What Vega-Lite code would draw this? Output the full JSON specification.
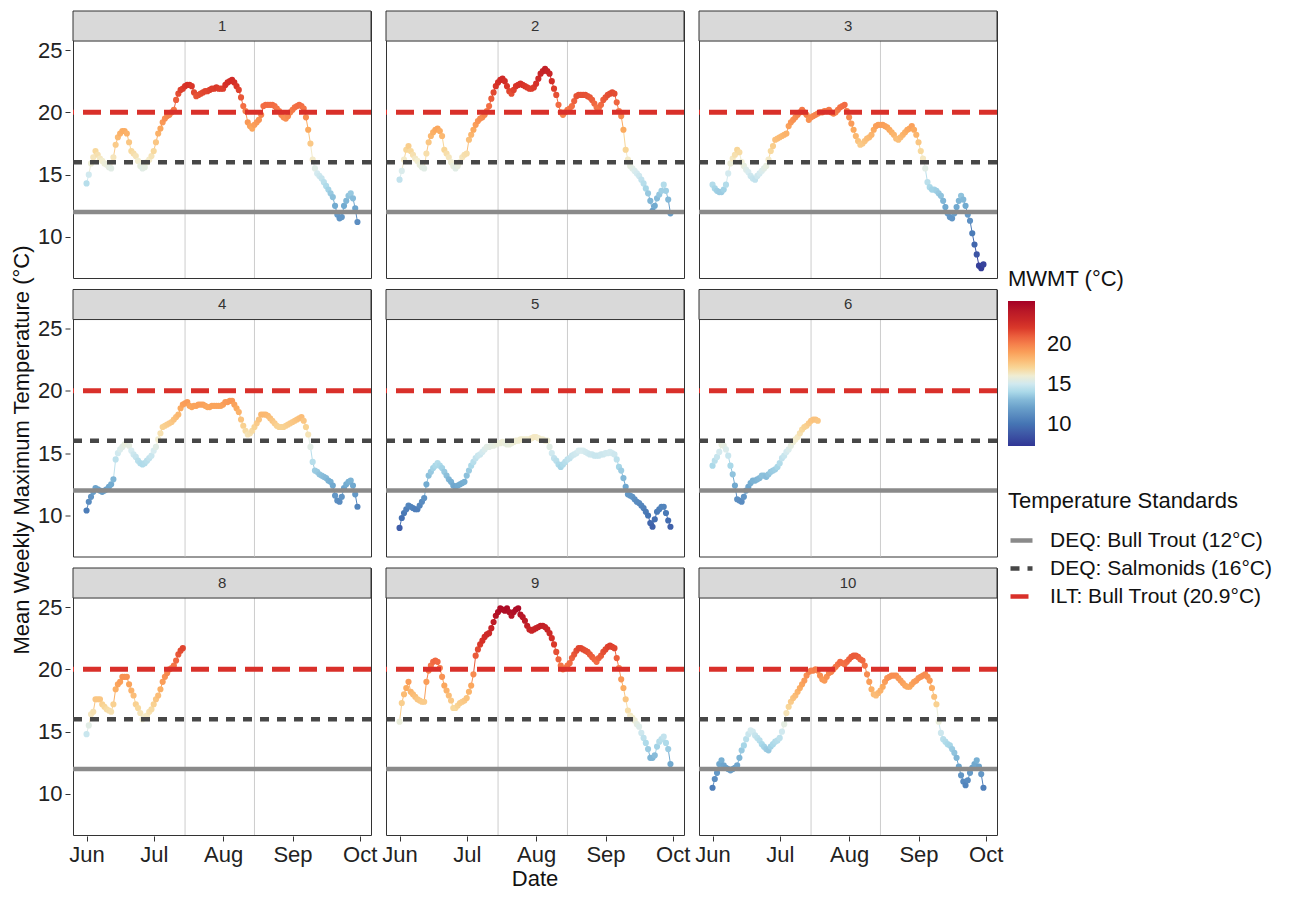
{
"$schema":"https://vega.github.io/schema/vega-lite/v6.json",
"padding":{"left":10,"top":10,"right":5,"bottom":5},
"background":"white",
"config":{"font":"Liberation Sans","view":{"stroke":"#333333","strokeWidth":1},
"axis":{"grid":false,"domain":false,"tickColor":"#333333","tickSize":5,"labelFontSize":22,"labelColor":"#222222","labelPadding":3},
"legend":{"titleFontSize":22,"titleFontWeight":"normal","titleColor":"#111111","labelFontSize":22,"labelColor":"#111111","labelLimit":0,"titleLimit":0}},
"title":{"text":"Mean Weekly Maximum Temperature (°C)","orient":"left","anchor":"middle","fontSize":22,"fontWeight":"normal","color":"#111111","offset":4},
"data":{"values":[
{"s":1,"d":"2021-06-01","t":14.3},{"s":1,"d":"2021-06-02","t":15.0},{"s":1,"d":"2021-06-03","t":15.9},{"s":1,"d":"2021-06-04","t":16.4},{"s":1,"d":"2021-06-05","t":16.9},{"s":1,"d":"2021-06-06","t":16.6},{"s":1,"d":"2021-06-07","t":16.3},{"s":1,"d":"2021-06-08","t":16.1},{"s":1,"d":"2021-06-09","t":15.9},{"s":1,"d":"2021-06-10","t":15.8},{"s":1,"d":"2021-06-11","t":15.6},{"s":1,"d":"2021-06-12","t":15.5},{"s":1,"d":"2021-06-13","t":16.4},{"s":1,"d":"2021-06-14","t":17.4},{"s":1,"d":"2021-06-15","t":18.0},{"s":1,"d":"2021-06-16","t":18.3},{"s":1,"d":"2021-06-17","t":18.5},{"s":1,"d":"2021-06-18","t":18.5},{"s":1,"d":"2021-06-19","t":18.3},{"s":1,"d":"2021-06-20","t":17.6},{"s":1,"d":"2021-06-21","t":16.9},{"s":1,"d":"2021-06-22","t":16.7},{"s":1,"d":"2021-06-23","t":16.5},{"s":1,"d":"2021-06-24","t":16.1},{"s":1,"d":"2021-06-25","t":15.7},{"s":1,"d":"2021-06-26","t":15.5},{"s":1,"d":"2021-06-27","t":15.6},{"s":1,"d":"2021-06-28","t":16.0},{"s":1,"d":"2021-06-29","t":16.2},{"s":1,"d":"2021-06-30","t":16.5},
{"s":1,"d":"2021-07-01","t":16.9},{"s":1,"d":"2021-07-02","t":17.6},{"s":1,"d":"2021-07-03","t":18.3},{"s":1,"d":"2021-07-04","t":18.7},{"s":1,"d":"2021-07-05","t":19.2},{"s":1,"d":"2021-07-06","t":19.5},{"s":1,"d":"2021-07-07","t":19.7},{"s":1,"d":"2021-07-08","t":19.8},{"s":1,"d":"2021-07-09","t":20.0},{"s":1,"d":"2021-07-10","t":20.2},{"s":1,"d":"2021-07-11","t":21.0},{"s":1,"d":"2021-07-12","t":21.5},{"s":1,"d":"2021-07-13","t":21.8},{"s":1,"d":"2021-07-14","t":21.9},{"s":1,"d":"2021-07-15","t":22.1},{"s":1,"d":"2021-07-16","t":22.2},{"s":1,"d":"2021-07-17","t":22.2},{"s":1,"d":"2021-07-18","t":22.1},{"s":1,"d":"2021-07-19","t":21.6},{"s":1,"d":"2021-07-20","t":21.3},{"s":1,"d":"2021-07-21","t":21.4},{"s":1,"d":"2021-07-22","t":21.5},{"s":1,"d":"2021-07-23","t":21.6},{"s":1,"d":"2021-07-24","t":21.7},{"s":1,"d":"2021-07-25","t":21.7},{"s":1,"d":"2021-07-26","t":21.8},{"s":1,"d":"2021-07-27","t":21.9},{"s":1,"d":"2021-07-28","t":21.9},{"s":1,"d":"2021-07-29","t":22.0},{"s":1,"d":"2021-07-30","t":21.9},{"s":1,"d":"2021-07-31","t":21.9},
{"s":1,"d":"2021-08-01","t":21.9},{"s":1,"d":"2021-08-02","t":22.2},{"s":1,"d":"2021-08-03","t":22.4},{"s":1,"d":"2021-08-04","t":22.5},{"s":1,"d":"2021-08-05","t":22.6},{"s":1,"d":"2021-08-06","t":22.4},{"s":1,"d":"2021-08-07","t":22.1},{"s":1,"d":"2021-08-08","t":21.8},{"s":1,"d":"2021-08-09","t":21.2},{"s":1,"d":"2021-08-10","t":20.5},{"s":1,"d":"2021-08-11","t":20.1},{"s":1,"d":"2021-08-12","t":19.2},{"s":1,"d":"2021-08-13","t":18.9},{"s":1,"d":"2021-08-14","t":18.7},{"s":1,"d":"2021-08-15","t":19.0},{"s":1,"d":"2021-08-16","t":19.2},{"s":1,"d":"2021-08-17","t":19.4},{"s":1,"d":"2021-08-18","t":19.8},{"s":1,"d":"2021-08-19","t":20.5},{"s":1,"d":"2021-08-20","t":20.6},{"s":1,"d":"2021-08-21","t":20.6},{"s":1,"d":"2021-08-22","t":20.6},{"s":1,"d":"2021-08-23","t":20.6},{"s":1,"d":"2021-08-24","t":20.5},{"s":1,"d":"2021-08-25","t":20.3},{"s":1,"d":"2021-08-26","t":20.1},{"s":1,"d":"2021-08-27","t":19.8},{"s":1,"d":"2021-08-28","t":19.6},{"s":1,"d":"2021-08-29","t":19.5},{"s":1,"d":"2021-08-30","t":19.7},{"s":1,"d":"2021-08-31","t":20.0},
{"s":1,"d":"2021-09-01","t":20.2},{"s":1,"d":"2021-09-02","t":20.4},{"s":1,"d":"2021-09-03","t":20.5},{"s":1,"d":"2021-09-04","t":20.6},{"s":1,"d":"2021-09-05","t":20.5},{"s":1,"d":"2021-09-06","t":20.3},{"s":1,"d":"2021-09-07","t":19.6},{"s":1,"d":"2021-09-08","t":18.6},{"s":1,"d":"2021-09-09","t":17.5},{"s":1,"d":"2021-09-10","t":16.2},{"s":1,"d":"2021-09-11","t":15.5},{"s":1,"d":"2021-09-12","t":15.1},{"s":1,"d":"2021-09-13","t":14.9},{"s":1,"d":"2021-09-14","t":14.7},{"s":1,"d":"2021-09-15","t":14.4},{"s":1,"d":"2021-09-16","t":14.1},{"s":1,"d":"2021-09-17","t":13.8},{"s":1,"d":"2021-09-18","t":13.5},{"s":1,"d":"2021-09-19","t":13.2},{"s":1,"d":"2021-09-20","t":12.5},{"s":1,"d":"2021-09-21","t":11.8},{"s":1,"d":"2021-09-22","t":11.5},{"s":1,"d":"2021-09-23","t":11.6},{"s":1,"d":"2021-09-24","t":12.5},{"s":1,"d":"2021-09-25","t":12.9},{"s":1,"d":"2021-09-26","t":13.3},{"s":1,"d":"2021-09-27","t":13.5},{"s":1,"d":"2021-09-28","t":13.1},{"s":1,"d":"2021-09-29","t":12.3},{"s":1,"d":"2021-09-30","t":11.2},
{"s":2,"d":"2021-06-01","t":14.6},{"s":2,"d":"2021-06-02","t":15.3},{"s":2,"d":"2021-06-03","t":16.2},{"s":2,"d":"2021-06-04","t":17.0},{"s":2,"d":"2021-06-05","t":17.3},{"s":2,"d":"2021-06-06","t":16.9},{"s":2,"d":"2021-06-07","t":16.6},{"s":2,"d":"2021-06-08","t":16.3},{"s":2,"d":"2021-06-09","t":16.1},{"s":2,"d":"2021-06-10","t":15.8},{"s":2,"d":"2021-06-11","t":15.6},{"s":2,"d":"2021-06-12","t":15.5},{"s":2,"d":"2021-06-13","t":16.7},{"s":2,"d":"2021-06-14","t":17.6},{"s":2,"d":"2021-06-15","t":18.1},{"s":2,"d":"2021-06-16","t":18.4},{"s":2,"d":"2021-06-17","t":18.6},{"s":2,"d":"2021-06-18","t":18.7},{"s":2,"d":"2021-06-19","t":18.5},{"s":2,"d":"2021-06-20","t":18.1},{"s":2,"d":"2021-06-21","t":17.0},{"s":2,"d":"2021-06-22","t":16.7},{"s":2,"d":"2021-06-23","t":16.4},{"s":2,"d":"2021-06-24","t":16.0},{"s":2,"d":"2021-06-25","t":15.7},{"s":2,"d":"2021-06-26","t":15.5},{"s":2,"d":"2021-06-27","t":15.7},{"s":2,"d":"2021-06-28","t":16.0},{"s":2,"d":"2021-06-29","t":16.4},{"s":2,"d":"2021-06-30","t":16.6},
{"s":2,"d":"2021-07-01","t":16.7},{"s":2,"d":"2021-07-02","t":17.8},{"s":2,"d":"2021-07-03","t":18.2},{"s":2,"d":"2021-07-04","t":18.6},{"s":2,"d":"2021-07-05","t":19.0},{"s":2,"d":"2021-07-06","t":19.3},{"s":2,"d":"2021-07-07","t":19.5},{"s":2,"d":"2021-07-08","t":19.6},{"s":2,"d":"2021-07-09","t":19.8},{"s":2,"d":"2021-07-10","t":20.1},{"s":2,"d":"2021-07-11","t":20.5},{"s":2,"d":"2021-07-12","t":21.1},{"s":2,"d":"2021-07-13","t":21.6},{"s":2,"d":"2021-07-14","t":22.1},{"s":2,"d":"2021-07-15","t":22.4},{"s":2,"d":"2021-07-16","t":22.6},{"s":2,"d":"2021-07-17","t":22.7},{"s":2,"d":"2021-07-18","t":22.5},{"s":2,"d":"2021-07-19","t":22.1},{"s":2,"d":"2021-07-20","t":21.7},{"s":2,"d":"2021-07-21","t":21.5},{"s":2,"d":"2021-07-22","t":21.8},{"s":2,"d":"2021-07-23","t":22.1},{"s":2,"d":"2021-07-24","t":22.2},{"s":2,"d":"2021-07-25","t":22.3},{"s":2,"d":"2021-07-26","t":22.2},{"s":2,"d":"2021-07-27","t":22.1},{"s":2,"d":"2021-07-28","t":22.0},{"s":2,"d":"2021-07-29","t":21.9},{"s":2,"d":"2021-07-30","t":21.9},{"s":2,"d":"2021-07-31","t":22.0},
{"s":2,"d":"2021-08-01","t":22.3},{"s":2,"d":"2021-08-02","t":22.7},{"s":2,"d":"2021-08-03","t":23.1},{"s":2,"d":"2021-08-04","t":23.3},{"s":2,"d":"2021-08-05","t":23.5},{"s":2,"d":"2021-08-06","t":23.3},{"s":2,"d":"2021-08-07","t":23.1},{"s":2,"d":"2021-08-08","t":22.5},{"s":2,"d":"2021-08-09","t":21.9},{"s":2,"d":"2021-08-10","t":21.4},{"s":2,"d":"2021-08-11","t":20.6},{"s":2,"d":"2021-08-12","t":20.0},{"s":2,"d":"2021-08-13","t":19.8},{"s":2,"d":"2021-08-14","t":20.0},{"s":2,"d":"2021-08-15","t":20.2},{"s":2,"d":"2021-08-16","t":20.3},{"s":2,"d":"2021-08-17","t":20.5},{"s":2,"d":"2021-08-18","t":20.9},{"s":2,"d":"2021-08-19","t":21.3},{"s":2,"d":"2021-08-20","t":21.4},{"s":2,"d":"2021-08-21","t":21.4},{"s":2,"d":"2021-08-22","t":21.4},{"s":2,"d":"2021-08-23","t":21.4},{"s":2,"d":"2021-08-24","t":21.3},{"s":2,"d":"2021-08-25","t":21.2},{"s":2,"d":"2021-08-26","t":21.0},{"s":2,"d":"2021-08-27","t":20.7},{"s":2,"d":"2021-08-28","t":20.4},{"s":2,"d":"2021-08-29","t":20.3},{"s":2,"d":"2021-08-30","t":20.6},{"s":2,"d":"2021-08-31","t":21.0},
{"s":2,"d":"2021-09-01","t":21.2},{"s":2,"d":"2021-09-02","t":21.4},{"s":2,"d":"2021-09-03","t":21.5},{"s":2,"d":"2021-09-04","t":21.6},{"s":2,"d":"2021-09-05","t":21.5},{"s":2,"d":"2021-09-06","t":20.8},{"s":2,"d":"2021-09-07","t":20.1},{"s":2,"d":"2021-09-08","t":19.7},{"s":2,"d":"2021-09-09","t":18.6},{"s":2,"d":"2021-09-10","t":17.0},{"s":2,"d":"2021-09-11","t":16.2},{"s":2,"d":"2021-09-12","t":15.7},{"s":2,"d":"2021-09-13","t":15.5},{"s":2,"d":"2021-09-14","t":15.3},{"s":2,"d":"2021-09-15","t":15.1},{"s":2,"d":"2021-09-16","t":14.9},{"s":2,"d":"2021-09-17","t":14.6},{"s":2,"d":"2021-09-18","t":14.3},{"s":2,"d":"2021-09-19","t":13.9},{"s":2,"d":"2021-09-20","t":13.5},{"s":2,"d":"2021-09-21","t":12.9},{"s":2,"d":"2021-09-22","t":12.1},{"s":2,"d":"2021-09-23","t":12.5},{"s":2,"d":"2021-09-24","t":13.1},{"s":2,"d":"2021-09-25","t":13.4},{"s":2,"d":"2021-09-26","t":13.7},{"s":2,"d":"2021-09-27","t":14.2},{"s":2,"d":"2021-09-28","t":13.7},{"s":2,"d":"2021-09-29","t":13.0},{"s":2,"d":"2021-09-30","t":11.9},
{"s":3,"d":"2021-06-01","t":14.2},{"s":3,"d":"2021-06-02","t":13.9},{"s":3,"d":"2021-06-03","t":13.7},{"s":3,"d":"2021-06-04","t":13.6},{"s":3,"d":"2021-06-05","t":13.6},{"s":3,"d":"2021-06-06","t":13.8},{"s":3,"d":"2021-06-07","t":14.2},{"s":3,"d":"2021-06-08","t":15.1},{"s":3,"d":"2021-06-09","t":15.9},{"s":3,"d":"2021-06-10","t":16.3},{"s":3,"d":"2021-06-11","t":16.6},{"s":3,"d":"2021-06-12","t":17.0},{"s":3,"d":"2021-06-13","t":16.8},{"s":3,"d":"2021-06-14","t":16.0},{"s":3,"d":"2021-06-15","t":15.7},{"s":3,"d":"2021-06-16","t":15.4},{"s":3,"d":"2021-06-17","t":15.2},{"s":3,"d":"2021-06-18","t":14.9},{"s":3,"d":"2021-06-19","t":14.7},{"s":3,"d":"2021-06-20","t":14.6},{"s":3,"d":"2021-06-21","t":14.9},{"s":3,"d":"2021-06-22","t":15.1},{"s":3,"d":"2021-06-23","t":15.3},{"s":3,"d":"2021-06-24","t":15.5},{"s":3,"d":"2021-06-25","t":15.7},{"s":3,"d":"2021-06-26","t":16.2},{"s":3,"d":"2021-06-27","t":16.9},{"s":3,"d":"2021-06-28","t":17.3},{"s":3,"d":"2021-06-29","t":17.8},{"s":3,"d":"2021-06-30","t":17.9},
{"s":3,"d":"2021-07-01","t":18.0},{"s":3,"d":"2021-07-02","t":18.1},{"s":3,"d":"2021-07-03","t":18.2},{"s":3,"d":"2021-07-04","t":18.3},{"s":3,"d":"2021-07-05","t":18.9},{"s":3,"d":"2021-07-06","t":19.2},{"s":3,"d":"2021-07-07","t":19.4},{"s":3,"d":"2021-07-08","t":19.6},{"s":3,"d":"2021-07-09","t":19.8},{"s":3,"d":"2021-07-10","t":20.0},{"s":3,"d":"2021-07-11","t":20.2},{"s":3,"d":"2021-07-12","t":20.0},{"s":3,"d":"2021-07-13","t":19.8},{"s":3,"d":"2021-07-14","t":19.4},{"s":3,"d":"2021-07-15","t":19.6},{"s":3,"d":"2021-07-16","t":19.7},{"s":3,"d":"2021-07-17","t":19.8},{"s":3,"d":"2021-07-18","t":19.9},{"s":3,"d":"2021-07-19","t":20.0},{"s":3,"d":"2021-07-20","t":20.0},{"s":3,"d":"2021-07-21","t":20.1},{"s":3,"d":"2021-07-22","t":20.1},{"s":3,"d":"2021-07-23","t":20.2},{"s":3,"d":"2021-07-24","t":20.0},{"s":3,"d":"2021-07-25","t":19.9},{"s":3,"d":"2021-07-26","t":20.0},{"s":3,"d":"2021-07-27","t":20.2},{"s":3,"d":"2021-07-28","t":20.4},{"s":3,"d":"2021-07-29","t":20.5},{"s":3,"d":"2021-07-30","t":20.6},{"s":3,"d":"2021-07-31","t":20.1},
{"s":3,"d":"2021-08-01","t":19.6},{"s":3,"d":"2021-08-02","t":19.1},{"s":3,"d":"2021-08-03","t":18.6},{"s":3,"d":"2021-08-04","t":18.1},{"s":3,"d":"2021-08-05","t":17.7},{"s":3,"d":"2021-08-06","t":17.4},{"s":3,"d":"2021-08-07","t":17.5},{"s":3,"d":"2021-08-08","t":17.7},{"s":3,"d":"2021-08-09","t":17.9},{"s":3,"d":"2021-08-10","t":18.0},{"s":3,"d":"2021-08-11","t":18.2},{"s":3,"d":"2021-08-12","t":18.6},{"s":3,"d":"2021-08-13","t":18.9},{"s":3,"d":"2021-08-14","t":19.0},{"s":3,"d":"2021-08-15","t":19.0},{"s":3,"d":"2021-08-16","t":19.0},{"s":3,"d":"2021-08-17","t":18.9},{"s":3,"d":"2021-08-18","t":18.8},{"s":3,"d":"2021-08-19","t":18.6},{"s":3,"d":"2021-08-20","t":18.4},{"s":3,"d":"2021-08-21","t":18.2},{"s":3,"d":"2021-08-22","t":17.9},{"s":3,"d":"2021-08-23","t":17.8},{"s":3,"d":"2021-08-24","t":18.0},{"s":3,"d":"2021-08-25","t":18.2},{"s":3,"d":"2021-08-26","t":18.4},{"s":3,"d":"2021-08-27","t":18.6},{"s":3,"d":"2021-08-28","t":18.7},{"s":3,"d":"2021-08-29","t":18.9},{"s":3,"d":"2021-08-30","t":18.6},{"s":3,"d":"2021-08-31","t":18.2},
{"s":3,"d":"2021-09-01","t":17.6},{"s":3,"d":"2021-09-02","t":16.9},{"s":3,"d":"2021-09-03","t":16.3},{"s":3,"d":"2021-09-04","t":15.5},{"s":3,"d":"2021-09-05","t":14.4},{"s":3,"d":"2021-09-06","t":14.0},{"s":3,"d":"2021-09-07","t":13.8},{"s":3,"d":"2021-09-08","t":13.8},{"s":3,"d":"2021-09-09","t":13.7},{"s":3,"d":"2021-09-10","t":13.5},{"s":3,"d":"2021-09-11","t":13.3},{"s":3,"d":"2021-09-12","t":12.9},{"s":3,"d":"2021-09-13","t":12.4},{"s":3,"d":"2021-09-14","t":11.9},{"s":3,"d":"2021-09-15","t":11.6},{"s":3,"d":"2021-09-16","t":11.5},{"s":3,"d":"2021-09-17","t":11.9},{"s":3,"d":"2021-09-18","t":12.4},{"s":3,"d":"2021-09-19","t":12.9},{"s":3,"d":"2021-09-20","t":13.3},{"s":3,"d":"2021-09-21","t":13.0},{"s":3,"d":"2021-09-22","t":12.5},{"s":3,"d":"2021-09-23","t":11.8},{"s":3,"d":"2021-09-24","t":11.3},{"s":3,"d":"2021-09-25","t":10.3},{"s":3,"d":"2021-09-26","t":9.4},{"s":3,"d":"2021-09-27","t":8.6},{"s":3,"d":"2021-09-28","t":7.7},{"s":3,"d":"2021-09-29","t":7.5},{"s":3,"d":"2021-09-30","t":7.8},
{"s":4,"d":"2021-06-01","t":10.4},{"s":4,"d":"2021-06-02","t":11.1},{"s":4,"d":"2021-06-03","t":11.5},{"s":4,"d":"2021-06-04","t":11.9},{"s":4,"d":"2021-06-05","t":12.2},{"s":4,"d":"2021-06-06","t":12.1},{"s":4,"d":"2021-06-07","t":12.0},{"s":4,"d":"2021-06-08","t":11.9},{"s":4,"d":"2021-06-09","t":12.0},{"s":4,"d":"2021-06-10","t":12.1},{"s":4,"d":"2021-06-11","t":12.3},{"s":4,"d":"2021-06-12","t":12.5},{"s":4,"d":"2021-06-13","t":12.9},{"s":4,"d":"2021-06-14","t":14.5},{"s":4,"d":"2021-06-15","t":15.0},{"s":4,"d":"2021-06-16","t":15.3},{"s":4,"d":"2021-06-17","t":15.5},{"s":4,"d":"2021-06-18","t":15.7},{"s":4,"d":"2021-06-19","t":15.9},{"s":4,"d":"2021-06-20","t":15.6},{"s":4,"d":"2021-06-21","t":15.2},{"s":4,"d":"2021-06-22","t":14.9},{"s":4,"d":"2021-06-23","t":14.7},{"s":4,"d":"2021-06-24","t":14.4},{"s":4,"d":"2021-06-25","t":14.2},{"s":4,"d":"2021-06-26","t":14.1},{"s":4,"d":"2021-06-27","t":14.2},{"s":4,"d":"2021-06-28","t":14.4},{"s":4,"d":"2021-06-29","t":14.6},{"s":4,"d":"2021-06-30","t":14.8},
{"s":4,"d":"2021-07-01","t":15.2},{"s":4,"d":"2021-07-02","t":15.5},{"s":4,"d":"2021-07-03","t":16.1},{"s":4,"d":"2021-07-04","t":16.6},{"s":4,"d":"2021-07-05","t":17.1},{"s":4,"d":"2021-07-06","t":17.2},{"s":4,"d":"2021-07-07","t":17.3},{"s":4,"d":"2021-07-08","t":17.4},{"s":4,"d":"2021-07-09","t":17.5},{"s":4,"d":"2021-07-10","t":17.7},{"s":4,"d":"2021-07-11","t":17.9},{"s":4,"d":"2021-07-12","t":18.1},{"s":4,"d":"2021-07-13","t":18.6},{"s":4,"d":"2021-07-14","t":18.9},{"s":4,"d":"2021-07-15","t":19.0},{"s":4,"d":"2021-07-16","t":19.1},{"s":4,"d":"2021-07-17","t":18.8},{"s":4,"d":"2021-07-18","t":18.7},{"s":4,"d":"2021-07-19","t":18.8},{"s":4,"d":"2021-07-20","t":18.8},{"s":4,"d":"2021-07-21","t":18.9},{"s":4,"d":"2021-07-22","t":18.9},{"s":4,"d":"2021-07-23","t":18.9},{"s":4,"d":"2021-07-24","t":18.8},{"s":4,"d":"2021-07-25","t":18.7},{"s":4,"d":"2021-07-26","t":18.7},{"s":4,"d":"2021-07-27","t":18.8},{"s":4,"d":"2021-07-28","t":18.8},{"s":4,"d":"2021-07-29","t":18.8},{"s":4,"d":"2021-07-30","t":18.8},{"s":4,"d":"2021-07-31","t":18.8},
{"s":4,"d":"2021-08-01","t":18.9},{"s":4,"d":"2021-08-02","t":19.1},{"s":4,"d":"2021-08-03","t":19.1},{"s":4,"d":"2021-08-04","t":19.2},{"s":4,"d":"2021-08-05","t":19.2},{"s":4,"d":"2021-08-06","t":18.9},{"s":4,"d":"2021-08-07","t":18.6},{"s":4,"d":"2021-08-08","t":18.3},{"s":4,"d":"2021-08-09","t":17.7},{"s":4,"d":"2021-08-10","t":17.2},{"s":4,"d":"2021-08-11","t":16.8},{"s":4,"d":"2021-08-12","t":16.5},{"s":4,"d":"2021-08-13","t":16.6},{"s":4,"d":"2021-08-14","t":16.8},{"s":4,"d":"2021-08-15","t":17.1},{"s":4,"d":"2021-08-16","t":17.4},{"s":4,"d":"2021-08-17","t":17.7},{"s":4,"d":"2021-08-18","t":18.1},{"s":4,"d":"2021-08-19","t":18.1},{"s":4,"d":"2021-08-20","t":18.1},{"s":4,"d":"2021-08-21","t":18.0},{"s":4,"d":"2021-08-22","t":17.8},{"s":4,"d":"2021-08-23","t":17.6},{"s":4,"d":"2021-08-24","t":17.4},{"s":4,"d":"2021-08-25","t":17.2},{"s":4,"d":"2021-08-26","t":17.1},{"s":4,"d":"2021-08-27","t":17.1},{"s":4,"d":"2021-08-28","t":17.1},{"s":4,"d":"2021-08-29","t":17.2},{"s":4,"d":"2021-08-30","t":17.3},{"s":4,"d":"2021-08-31","t":17.4},
{"s":4,"d":"2021-09-01","t":17.5},{"s":4,"d":"2021-09-02","t":17.6},{"s":4,"d":"2021-09-03","t":17.7},{"s":4,"d":"2021-09-04","t":17.8},{"s":4,"d":"2021-09-05","t":17.9},{"s":4,"d":"2021-09-06","t":17.6},{"s":4,"d":"2021-09-07","t":17.1},{"s":4,"d":"2021-09-08","t":16.5},{"s":4,"d":"2021-09-09","t":15.5},{"s":4,"d":"2021-09-10","t":14.3},{"s":4,"d":"2021-09-11","t":13.6},{"s":4,"d":"2021-09-12","t":13.5},{"s":4,"d":"2021-09-13","t":13.3},{"s":4,"d":"2021-09-14","t":13.2},{"s":4,"d":"2021-09-15","t":13.1},{"s":4,"d":"2021-09-16","t":13.0},{"s":4,"d":"2021-09-17","t":12.8},{"s":4,"d":"2021-09-18","t":12.7},{"s":4,"d":"2021-09-19","t":12.4},{"s":4,"d":"2021-09-20","t":11.6},{"s":4,"d":"2021-09-21","t":11.2},{"s":4,"d":"2021-09-22","t":11.1},{"s":4,"d":"2021-09-23","t":11.5},{"s":4,"d":"2021-09-24","t":12.2},{"s":4,"d":"2021-09-25","t":12.5},{"s":4,"d":"2021-09-26","t":12.7},{"s":4,"d":"2021-09-27","t":12.8},{"s":4,"d":"2021-09-28","t":12.4},{"s":4,"d":"2021-09-29","t":11.7},{"s":4,"d":"2021-09-30","t":10.7},
{"s":5,"d":"2021-06-01","t":9.0},{"s":5,"d":"2021-06-02","t":9.8},{"s":5,"d":"2021-06-03","t":10.2},{"s":5,"d":"2021-06-04","t":10.5},{"s":5,"d":"2021-06-05","t":10.8},{"s":5,"d":"2021-06-06","t":10.7},{"s":5,"d":"2021-06-07","t":10.6},{"s":5,"d":"2021-06-08","t":10.5},{"s":5,"d":"2021-06-09","t":10.5},{"s":5,"d":"2021-06-10","t":10.8},{"s":5,"d":"2021-06-11","t":11.1},{"s":5,"d":"2021-06-12","t":11.4},{"s":5,"d":"2021-06-13","t":12.5},{"s":5,"d":"2021-06-14","t":13.2},{"s":5,"d":"2021-06-15","t":13.5},{"s":5,"d":"2021-06-16","t":13.8},{"s":5,"d":"2021-06-17","t":14.0},{"s":5,"d":"2021-06-18","t":14.2},{"s":5,"d":"2021-06-19","t":14.0},{"s":5,"d":"2021-06-20","t":13.8},{"s":5,"d":"2021-06-21","t":13.5},{"s":5,"d":"2021-06-22","t":13.2},{"s":5,"d":"2021-06-23","t":12.9},{"s":5,"d":"2021-06-24","t":12.7},{"s":5,"d":"2021-06-25","t":12.4},{"s":5,"d":"2021-06-26","t":12.3},{"s":5,"d":"2021-06-27","t":12.4},{"s":5,"d":"2021-06-28","t":12.5},{"s":5,"d":"2021-06-29","t":12.6},{"s":5,"d":"2021-06-30","t":12.7},
{"s":5,"d":"2021-07-01","t":13.2},{"s":5,"d":"2021-07-02","t":13.6},{"s":5,"d":"2021-07-03","t":14.0},{"s":5,"d":"2021-07-04","t":14.3},{"s":5,"d":"2021-07-05","t":14.6},{"s":5,"d":"2021-07-06","t":14.8},{"s":5,"d":"2021-07-07","t":14.9},{"s":5,"d":"2021-07-08","t":15.1},{"s":5,"d":"2021-07-09","t":15.3},{"s":5,"d":"2021-07-10","t":15.5},{"s":5,"d":"2021-07-11","t":15.5},{"s":5,"d":"2021-07-12","t":15.6},{"s":5,"d":"2021-07-13","t":15.6},{"s":5,"d":"2021-07-14","t":15.7},{"s":5,"d":"2021-07-15","t":15.8},{"s":5,"d":"2021-07-16","t":15.8},{"s":5,"d":"2021-07-17","t":15.9},{"s":5,"d":"2021-07-18","t":15.8},{"s":5,"d":"2021-07-19","t":15.7},{"s":5,"d":"2021-07-20","t":15.7},{"s":5,"d":"2021-07-21","t":15.8},{"s":5,"d":"2021-07-22","t":15.9},{"s":5,"d":"2021-07-23","t":16.0},{"s":5,"d":"2021-07-24","t":16.0},{"s":5,"d":"2021-07-25","t":16.1},{"s":5,"d":"2021-07-26","t":16.1},{"s":5,"d":"2021-07-27","t":16.1},{"s":5,"d":"2021-07-28","t":16.1},{"s":5,"d":"2021-07-29","t":16.1},{"s":5,"d":"2021-07-30","t":16.2},{"s":5,"d":"2021-07-31","t":16.3},
{"s":5,"d":"2021-08-01","t":16.3},{"s":5,"d":"2021-08-02","t":16.2},{"s":5,"d":"2021-08-03","t":16.1},{"s":5,"d":"2021-08-04","t":16.1},{"s":5,"d":"2021-08-05","t":16.0},{"s":5,"d":"2021-08-06","t":16.0},{"s":5,"d":"2021-08-07","t":15.5},{"s":5,"d":"2021-08-08","t":15.0},{"s":5,"d":"2021-08-09","t":14.6},{"s":5,"d":"2021-08-10","t":14.4},{"s":5,"d":"2021-08-11","t":14.1},{"s":5,"d":"2021-08-12","t":13.9},{"s":5,"d":"2021-08-13","t":14.1},{"s":5,"d":"2021-08-14","t":14.3},{"s":5,"d":"2021-08-15","t":14.5},{"s":5,"d":"2021-08-16","t":14.6},{"s":5,"d":"2021-08-17","t":14.8},{"s":5,"d":"2021-08-18","t":14.9},{"s":5,"d":"2021-08-19","t":15.0},{"s":5,"d":"2021-08-20","t":15.2},{"s":5,"d":"2021-08-21","t":15.2},{"s":5,"d":"2021-08-22","t":15.2},{"s":5,"d":"2021-08-23","t":15.1},{"s":5,"d":"2021-08-24","t":15.0},{"s":5,"d":"2021-08-25","t":14.9},{"s":5,"d":"2021-08-26","t":14.9},{"s":5,"d":"2021-08-27","t":14.8},{"s":5,"d":"2021-08-28","t":14.8},{"s":5,"d":"2021-08-29","t":14.8},{"s":5,"d":"2021-08-30","t":14.9},{"s":5,"d":"2021-08-31","t":14.9},
{"s":5,"d":"2021-09-01","t":15.0},{"s":5,"d":"2021-09-02","t":15.0},{"s":5,"d":"2021-09-03","t":15.1},{"s":5,"d":"2021-09-04","t":15.0},{"s":5,"d":"2021-09-05","t":14.9},{"s":5,"d":"2021-09-06","t":14.5},{"s":5,"d":"2021-09-07","t":13.9},{"s":5,"d":"2021-09-08","t":13.6},{"s":5,"d":"2021-09-09","t":13.0},{"s":5,"d":"2021-09-10","t":12.3},{"s":5,"d":"2021-09-11","t":11.7},{"s":5,"d":"2021-09-12","t":11.6},{"s":5,"d":"2021-09-13","t":11.5},{"s":5,"d":"2021-09-14","t":11.3},{"s":5,"d":"2021-09-15","t":11.1},{"s":5,"d":"2021-09-16","t":11.0},{"s":5,"d":"2021-09-17","t":10.8},{"s":5,"d":"2021-09-18","t":10.6},{"s":5,"d":"2021-09-19","t":10.3},{"s":5,"d":"2021-09-20","t":10.0},{"s":5,"d":"2021-09-21","t":9.4},{"s":5,"d":"2021-09-22","t":9.1},{"s":5,"d":"2021-09-23","t":9.7},{"s":5,"d":"2021-09-24","t":10.3},{"s":5,"d":"2021-09-25","t":10.5},{"s":5,"d":"2021-09-26","t":10.7},{"s":5,"d":"2021-09-27","t":10.7},{"s":5,"d":"2021-09-28","t":10.2},{"s":5,"d":"2021-09-29","t":9.6},{"s":5,"d":"2021-09-30","t":9.1},
{"s":6,"d":"2021-06-01","t":14.0},{"s":6,"d":"2021-06-02","t":14.4},{"s":6,"d":"2021-06-03","t":14.7},{"s":6,"d":"2021-06-04","t":15.1},{"s":6,"d":"2021-06-05","t":15.7},{"s":6,"d":"2021-06-06","t":15.6},{"s":6,"d":"2021-06-07","t":15.3},{"s":6,"d":"2021-06-08","t":14.8},{"s":6,"d":"2021-06-09","t":14.0},{"s":6,"d":"2021-06-10","t":13.3},{"s":6,"d":"2021-06-11","t":12.4},{"s":6,"d":"2021-06-12","t":11.3},{"s":6,"d":"2021-06-13","t":11.2},{"s":6,"d":"2021-06-14","t":11.1},{"s":6,"d":"2021-06-15","t":11.5},{"s":6,"d":"2021-06-16","t":12.0},{"s":6,"d":"2021-06-17","t":12.3},{"s":6,"d":"2021-06-18","t":12.6},{"s":6,"d":"2021-06-19","t":12.8},{"s":6,"d":"2021-06-20","t":12.8},{"s":6,"d":"2021-06-21","t":12.9},{"s":6,"d":"2021-06-22","t":13.0},{"s":6,"d":"2021-06-23","t":13.2},{"s":6,"d":"2021-06-24","t":13.2},{"s":6,"d":"2021-06-25","t":13.1},{"s":6,"d":"2021-06-26","t":13.3},{"s":6,"d":"2021-06-27","t":13.5},{"s":6,"d":"2021-06-28","t":13.6},{"s":6,"d":"2021-06-29","t":13.7},{"s":6,"d":"2021-06-30","t":13.9},
{"s":6,"d":"2021-07-01","t":14.2},{"s":6,"d":"2021-07-02","t":14.6},{"s":6,"d":"2021-07-03","t":14.8},{"s":6,"d":"2021-07-04","t":15.1},{"s":6,"d":"2021-07-05","t":15.3},{"s":6,"d":"2021-07-06","t":15.6},{"s":6,"d":"2021-07-07","t":15.9},{"s":6,"d":"2021-07-08","t":16.1},{"s":6,"d":"2021-07-09","t":16.3},{"s":6,"d":"2021-07-10","t":16.6},{"s":6,"d":"2021-07-11","t":16.9},{"s":6,"d":"2021-07-12","t":17.1},{"s":6,"d":"2021-07-13","t":17.2},{"s":6,"d":"2021-07-14","t":17.4},{"s":6,"d":"2021-07-15","t":17.6},{"s":6,"d":"2021-07-16","t":17.7},{"s":6,"d":"2021-07-17","t":17.7},{"s":6,"d":"2021-07-18","t":17.6},
{"s":8,"d":"2021-06-01","t":14.8},{"s":8,"d":"2021-06-02","t":15.5},{"s":8,"d":"2021-06-03","t":16.4},{"s":8,"d":"2021-06-04","t":16.6},{"s":8,"d":"2021-06-05","t":17.6},{"s":8,"d":"2021-06-06","t":17.6},{"s":8,"d":"2021-06-07","t":17.6},{"s":8,"d":"2021-06-08","t":17.2},{"s":8,"d":"2021-06-09","t":17.0},{"s":8,"d":"2021-06-10","t":16.8},{"s":8,"d":"2021-06-11","t":16.7},{"s":8,"d":"2021-06-12","t":16.6},{"s":8,"d":"2021-06-13","t":17.2},{"s":8,"d":"2021-06-14","t":18.4},{"s":8,"d":"2021-06-15","t":18.8},{"s":8,"d":"2021-06-16","t":19.0},{"s":8,"d":"2021-06-17","t":19.4},{"s":8,"d":"2021-06-18","t":19.4},{"s":8,"d":"2021-06-19","t":19.4},{"s":8,"d":"2021-06-20","t":18.8},{"s":8,"d":"2021-06-21","t":18.3},{"s":8,"d":"2021-06-22","t":17.9},{"s":8,"d":"2021-06-23","t":17.2},{"s":8,"d":"2021-06-24","t":16.9},{"s":8,"d":"2021-06-25","t":16.5},{"s":8,"d":"2021-06-26","t":16.0},{"s":8,"d":"2021-06-27","t":16.2},{"s":8,"d":"2021-06-28","t":16.3},{"s":8,"d":"2021-06-29","t":16.6},{"s":8,"d":"2021-06-30","t":16.8},
{"s":8,"d":"2021-07-01","t":17.2},{"s":8,"d":"2021-07-02","t":17.6},{"s":8,"d":"2021-07-03","t":17.9},{"s":8,"d":"2021-07-04","t":18.4},{"s":8,"d":"2021-07-05","t":19.0},{"s":8,"d":"2021-07-06","t":19.4},{"s":8,"d":"2021-07-07","t":19.7},{"s":8,"d":"2021-07-08","t":20.0},{"s":8,"d":"2021-07-09","t":20.1},{"s":8,"d":"2021-07-10","t":20.3},{"s":8,"d":"2021-07-11","t":20.7},{"s":8,"d":"2021-07-12","t":21.2},{"s":8,"d":"2021-07-13","t":21.5},{"s":8,"d":"2021-07-14","t":21.7},
{"s":9,"d":"2021-06-01","t":15.8},{"s":9,"d":"2021-06-02","t":17.3},{"s":9,"d":"2021-06-03","t":18.0},{"s":9,"d":"2021-06-04","t":18.5},{"s":9,"d":"2021-06-05","t":19.0},{"s":9,"d":"2021-06-06","t":18.2},{"s":9,"d":"2021-06-07","t":18.0},{"s":9,"d":"2021-06-08","t":17.8},{"s":9,"d":"2021-06-09","t":17.6},{"s":9,"d":"2021-06-10","t":17.5},{"s":9,"d":"2021-06-11","t":17.4},{"s":9,"d":"2021-06-12","t":17.4},{"s":9,"d":"2021-06-13","t":19.0},{"s":9,"d":"2021-06-14","t":19.9},{"s":9,"d":"2021-06-15","t":20.3},{"s":9,"d":"2021-06-16","t":20.6},{"s":9,"d":"2021-06-17","t":20.7},{"s":9,"d":"2021-06-18","t":20.6},{"s":9,"d":"2021-06-19","t":20.1},{"s":9,"d":"2021-06-20","t":19.4},{"s":9,"d":"2021-06-21","t":18.7},{"s":9,"d":"2021-06-22","t":18.3},{"s":9,"d":"2021-06-23","t":17.9},{"s":9,"d":"2021-06-24","t":17.5},{"s":9,"d":"2021-06-25","t":16.9},{"s":9,"d":"2021-06-26","t":16.9},{"s":9,"d":"2021-06-27","t":17.1},{"s":9,"d":"2021-06-28","t":17.3},{"s":9,"d":"2021-06-29","t":17.4},{"s":9,"d":"2021-06-30","t":17.5},
{"s":9,"d":"2021-07-01","t":17.7},{"s":9,"d":"2021-07-02","t":18.2},{"s":9,"d":"2021-07-03","t":18.7},{"s":9,"d":"2021-07-04","t":19.6},{"s":9,"d":"2021-07-05","t":21.1},{"s":9,"d":"2021-07-06","t":21.6},{"s":9,"d":"2021-07-07","t":22.0},{"s":9,"d":"2021-07-08","t":22.3},{"s":9,"d":"2021-07-09","t":22.6},{"s":9,"d":"2021-07-10","t":22.8},{"s":9,"d":"2021-07-11","t":22.9},{"s":9,"d":"2021-07-12","t":23.3},{"s":9,"d":"2021-07-13","t":23.8},{"s":9,"d":"2021-07-14","t":24.3},{"s":9,"d":"2021-07-15","t":24.6},{"s":9,"d":"2021-07-16","t":24.9},{"s":9,"d":"2021-07-17","t":24.8},{"s":9,"d":"2021-07-18","t":24.7},{"s":9,"d":"2021-07-19","t":24.9},{"s":9,"d":"2021-07-20","t":24.6},{"s":9,"d":"2021-07-21","t":24.3},{"s":9,"d":"2021-07-22","t":24.6},{"s":9,"d":"2021-07-23","t":24.8},{"s":9,"d":"2021-07-24","t":24.9},{"s":9,"d":"2021-07-25","t":24.4},{"s":9,"d":"2021-07-26","t":24.2},{"s":9,"d":"2021-07-27","t":23.9},{"s":9,"d":"2021-07-28","t":23.5},{"s":9,"d":"2021-07-29","t":23.2},{"s":9,"d":"2021-07-30","t":23.1},{"s":9,"d":"2021-07-31","t":23.2},
{"s":9,"d":"2021-08-01","t":23.3},{"s":9,"d":"2021-08-02","t":23.4},{"s":9,"d":"2021-08-03","t":23.5},{"s":9,"d":"2021-08-04","t":23.5},{"s":9,"d":"2021-08-05","t":23.4},{"s":9,"d":"2021-08-06","t":23.2},{"s":9,"d":"2021-08-07","t":22.9},{"s":9,"d":"2021-08-08","t":22.5},{"s":9,"d":"2021-08-09","t":22.0},{"s":9,"d":"2021-08-10","t":21.4},{"s":9,"d":"2021-08-11","t":20.8},{"s":9,"d":"2021-08-12","t":20.3},{"s":9,"d":"2021-08-13","t":20.0},{"s":9,"d":"2021-08-14","t":20.1},{"s":9,"d":"2021-08-15","t":20.3},{"s":9,"d":"2021-08-16","t":20.5},{"s":9,"d":"2021-08-17","t":20.9},{"s":9,"d":"2021-08-18","t":21.2},{"s":9,"d":"2021-08-19","t":21.5},{"s":9,"d":"2021-08-20","t":21.7},{"s":9,"d":"2021-08-21","t":21.7},{"s":9,"d":"2021-08-22","t":21.6},{"s":9,"d":"2021-08-23","t":21.5},{"s":9,"d":"2021-08-24","t":21.4},{"s":9,"d":"2021-08-25","t":21.2},{"s":9,"d":"2021-08-26","t":21.0},{"s":9,"d":"2021-08-27","t":20.8},{"s":9,"d":"2021-08-28","t":20.6},{"s":9,"d":"2021-08-29","t":20.9},{"s":9,"d":"2021-08-30","t":21.1},{"s":9,"d":"2021-08-31","t":21.4},
{"s":9,"d":"2021-09-01","t":21.6},{"s":9,"d":"2021-09-02","t":21.8},{"s":9,"d":"2021-09-03","t":21.9},{"s":9,"d":"2021-09-04","t":21.8},{"s":9,"d":"2021-09-05","t":21.7},{"s":9,"d":"2021-09-06","t":20.9},{"s":9,"d":"2021-09-07","t":20.1},{"s":9,"d":"2021-09-08","t":19.2},{"s":9,"d":"2021-09-09","t":18.5},{"s":9,"d":"2021-09-10","t":17.6},{"s":9,"d":"2021-09-11","t":16.7},{"s":9,"d":"2021-09-12","t":16.3},{"s":9,"d":"2021-09-13","t":16.1},{"s":9,"d":"2021-09-14","t":15.9},{"s":9,"d":"2021-09-15","t":15.6},{"s":9,"d":"2021-09-16","t":15.4},{"s":9,"d":"2021-09-17","t":14.9},{"s":9,"d":"2021-09-18","t":14.5},{"s":9,"d":"2021-09-19","t":14.1},{"s":9,"d":"2021-09-20","t":13.6},{"s":9,"d":"2021-09-21","t":12.9},{"s":9,"d":"2021-09-22","t":12.9},{"s":9,"d":"2021-09-23","t":13.1},{"s":9,"d":"2021-09-24","t":13.8},{"s":9,"d":"2021-09-25","t":14.2},{"s":9,"d":"2021-09-26","t":14.4},{"s":9,"d":"2021-09-27","t":14.6},{"s":9,"d":"2021-09-28","t":14.1},{"s":9,"d":"2021-09-29","t":13.6},{"s":9,"d":"2021-09-30","t":12.4},
{"s":10,"d":"2021-06-01","t":10.5},{"s":10,"d":"2021-06-02","t":11.2},{"s":10,"d":"2021-06-03","t":11.7},{"s":10,"d":"2021-06-04","t":12.4},{"s":10,"d":"2021-06-05","t":12.7},{"s":10,"d":"2021-06-06","t":12.3},{"s":10,"d":"2021-06-07","t":12.1},{"s":10,"d":"2021-06-08","t":12.0},{"s":10,"d":"2021-06-09","t":11.9},{"s":10,"d":"2021-06-10","t":12.0},{"s":10,"d":"2021-06-11","t":12.1},{"s":10,"d":"2021-06-12","t":12.3},{"s":10,"d":"2021-06-13","t":12.9},{"s":10,"d":"2021-06-14","t":13.5},{"s":10,"d":"2021-06-15","t":13.9},{"s":10,"d":"2021-06-16","t":14.4},{"s":10,"d":"2021-06-17","t":14.8},{"s":10,"d":"2021-06-18","t":15.1},{"s":10,"d":"2021-06-19","t":15.0},{"s":10,"d":"2021-06-20","t":14.7},{"s":10,"d":"2021-06-21","t":14.5},{"s":10,"d":"2021-06-22","t":14.3},{"s":10,"d":"2021-06-23","t":14.0},{"s":10,"d":"2021-06-24","t":13.8},{"s":10,"d":"2021-06-25","t":13.6},{"s":10,"d":"2021-06-26","t":13.5},{"s":10,"d":"2021-06-27","t":13.8},{"s":10,"d":"2021-06-28","t":14.0},{"s":10,"d":"2021-06-29","t":14.2},{"s":10,"d":"2021-06-30","t":14.3},
{"s":10,"d":"2021-07-01","t":14.5},{"s":10,"d":"2021-07-02","t":15.0},{"s":10,"d":"2021-07-03","t":15.6},{"s":10,"d":"2021-07-04","t":16.5},{"s":10,"d":"2021-07-05","t":17.0},{"s":10,"d":"2021-07-06","t":17.4},{"s":10,"d":"2021-07-07","t":17.7},{"s":10,"d":"2021-07-08","t":17.9},{"s":10,"d":"2021-07-09","t":18.2},{"s":10,"d":"2021-07-10","t":18.5},{"s":10,"d":"2021-07-11","t":18.8},{"s":10,"d":"2021-07-12","t":19.1},{"s":10,"d":"2021-07-13","t":19.5},{"s":10,"d":"2021-07-14","t":19.8},{"s":10,"d":"2021-07-15","t":19.9},{"s":10,"d":"2021-07-16","t":19.9},{"s":10,"d":"2021-07-17","t":20.0},{"s":10,"d":"2021-07-18","t":19.9},{"s":10,"d":"2021-07-19","t":19.5},{"s":10,"d":"2021-07-20","t":19.2},{"s":10,"d":"2021-07-21","t":19.1},{"s":10,"d":"2021-07-22","t":19.4},{"s":10,"d":"2021-07-23","t":19.7},{"s":10,"d":"2021-07-24","t":19.8},{"s":10,"d":"2021-07-25","t":20.0},{"s":10,"d":"2021-07-26","t":20.2},{"s":10,"d":"2021-07-27","t":20.4},{"s":10,"d":"2021-07-28","t":20.6},{"s":10,"d":"2021-07-29","t":20.5},{"s":10,"d":"2021-07-30","t":20.4},{"s":10,"d":"2021-07-31","t":20.6},
{"s":10,"d":"2021-08-01","t":20.8},{"s":10,"d":"2021-08-02","t":21.0},{"s":10,"d":"2021-08-03","t":21.1},{"s":10,"d":"2021-08-04","t":21.1},{"s":10,"d":"2021-08-05","t":21.0},{"s":10,"d":"2021-08-06","t":20.8},{"s":10,"d":"2021-08-07","t":20.7},{"s":10,"d":"2021-08-08","t":20.3},{"s":10,"d":"2021-08-09","t":19.6},{"s":10,"d":"2021-08-10","t":19.0},{"s":10,"d":"2021-08-11","t":18.4},{"s":10,"d":"2021-08-12","t":18.0},{"s":10,"d":"2021-08-13","t":17.9},{"s":10,"d":"2021-08-14","t":18.1},{"s":10,"d":"2021-08-15","t":18.3},{"s":10,"d":"2021-08-16","t":18.6},{"s":10,"d":"2021-08-17","t":19.0},{"s":10,"d":"2021-08-18","t":19.3},{"s":10,"d":"2021-08-19","t":19.4},{"s":10,"d":"2021-08-20","t":19.5},{"s":10,"d":"2021-08-21","t":19.5},{"s":10,"d":"2021-08-22","t":19.5},{"s":10,"d":"2021-08-23","t":19.3},{"s":10,"d":"2021-08-24","t":19.1},{"s":10,"d":"2021-08-25","t":18.9},{"s":10,"d":"2021-08-26","t":18.7},{"s":10,"d":"2021-08-27","t":18.6},{"s":10,"d":"2021-08-28","t":18.6},{"s":10,"d":"2021-08-29","t":18.8},{"s":10,"d":"2021-08-30","t":19.0},{"s":10,"d":"2021-08-31","t":19.1},
{"s":10,"d":"2021-09-01","t":19.3},{"s":10,"d":"2021-09-02","t":19.4},{"s":10,"d":"2021-09-03","t":19.5},{"s":10,"d":"2021-09-04","t":19.6},{"s":10,"d":"2021-09-05","t":19.4},{"s":10,"d":"2021-09-06","t":19.1},{"s":10,"d":"2021-09-07","t":18.5},{"s":10,"d":"2021-09-08","t":17.8},{"s":10,"d":"2021-09-09","t":17.2},{"s":10,"d":"2021-09-10","t":15.8},{"s":10,"d":"2021-09-11","t":14.9},{"s":10,"d":"2021-09-12","t":14.4},{"s":10,"d":"2021-09-13","t":14.2},{"s":10,"d":"2021-09-14","t":14.0},{"s":10,"d":"2021-09-15","t":13.9},{"s":10,"d":"2021-09-16","t":13.6},{"s":10,"d":"2021-09-17","t":13.3},{"s":10,"d":"2021-09-18","t":12.9},{"s":10,"d":"2021-09-19","t":12.2},{"s":10,"d":"2021-09-20","t":11.5},{"s":10,"d":"2021-09-21","t":11.0},{"s":10,"d":"2021-09-22","t":10.7},{"s":10,"d":"2021-09-23","t":11.1},{"s":10,"d":"2021-09-24","t":11.7},{"s":10,"d":"2021-09-25","t":12.1},{"s":10,"d":"2021-09-26","t":12.4},{"s":10,"d":"2021-09-27","t":12.7},{"s":10,"d":"2021-09-28","t":12.2},{"s":10,"d":"2021-09-29","t":11.6},{"s":10,"d":"2021-09-30","t":10.5}
]},
"facet":{"field":"s","type":"ordinal","header":{"labelExpr":"''","labelFontSize":0,"labelPadding":0,"title":"Date","titleOrient":"bottom","titleFontSize":22,"titleFontWeight":"normal","titleColor":"#111111","titlePadding":4}},
"columns":3,
"spacing":{"row":9.5,"column":9},
"spec":{
"width":298,"height":267,
"layer":[
{"transform":[{"aggregate":[{"op":"count","as":"n"}],"groupby":["s"]}],
 "mark":{"type":"rule","color":"#CCCCCC","strokeWidth":1},
 "encoding":{"x":{"datum":{"year":2021,"month":7,"date":15,"utc":true},"type":"temporal","title":null},"y":{"datum":25.72,"type":"quantitative","title":null},"y2":{"datum":6.71}}},
{"transform":[{"aggregate":[{"op":"count","as":"n"}],"groupby":["s"]}],
 "mark":{"type":"rule","color":"#CCCCCC","strokeWidth":1},
 "encoding":{"x":{"datum":{"year":2021,"month":8,"date":15,"utc":true},"type":"temporal","title":null},"y":{"datum":25.72,"type":"quantitative","title":null},"y2":{"datum":6.71}}},
{"transform":[{"window":[{"op":"lag","field":"t","as":"pt"},{"op":"lag","field":"d","as":"pd"}],"groupby":["s"],"sort":[{"field":"d","order":"ascending"}]},{"filter":"datum.pt != null"}],
 "mark":{"type":"rule","strokeWidth":1},
 "encoding":{"x":{"field":"d","type":"temporal","title":null},"x2":{"field":"pd"},"y":{"field":"t","type":"quantitative","title":null},"y2":{"field":"pt"},
  "color":{"field":"t","type":"quantitative","legend":null,
   "scale":{"domain":[7.19,10.0,12.6,14.0,15.2,16.1,17.0,18.6,20.6,22.2,25.4],"range":["#313695","#4575B4","#74ADD1","#ABD9E9","#D8ECF0","#F2EDCF","#F8D698","#FBAA5F","#F26B43","#D73027","#A50026"],"interpolate":"lab"}}}},
{"mark":{"type":"point","filled":true,"size":38,"opacity":1,"strokeWidth":0},
 "encoding":{
  "x":{"field":"d","type":"temporal","title":null,
   "scale":{"type":"utc","nice":false,"domain":[{"year":2021,"month":5,"date":25,"hours":22,"minutes":48,"utc":true},{"year":2021,"month":10,"date":6,"hours":1,"minutes":12,"utc":true}]},
   "axis":{"values":[{"year":2021,"month":6,"date":1,"utc":true},{"year":2021,"month":7,"date":1,"utc":true},{"year":2021,"month":8,"date":1,"utc":true},{"year":2021,"month":9,"date":1,"utc":true},{"year":2021,"month":10,"date":1,"utc":true}],"format":"%b","labelFlush":false,"labelOverlap":false,"labelBound":false}},
  "y":{"field":"t","type":"quantitative","title":null,"scale":{"domain":[6.71,28.13],"nice":false,"zero":false},"axis":{"values":[10,15,20,25]}},
  "fill":{"field":"t","type":"quantitative",
   "scale":{"domain":[7.2,10.0,12.6,14.0,15.2,16.1,17.0,18.6,20.6,22.2,25.4],"range":["#313695","#4575B4","#74ADD1","#ABD9E9","#D8ECF0","#F2EDCF","#F8D698","#FBAA5F","#F26B43","#D73027","#A50026"],"interpolate":"lab"},
   "legend":{"title":"MWMT (°C)","values":[10,15,20],"direction":"vertical","gradientLength":145,"gradientThickness":27,"gradientStrokeWidth":0,"orient":"none","legendX":935,"legendY":258,"labelOffset":12,"titlePadding":10}}}},
{"transform":[{"aggregate":[{"op":"count","as":"n"}],"groupby":["s"]}],
 "mark":{"type":"rule","strokeWidth":4.5},
 "encoding":{"y":{"datum":12,"type":"quantitative","title":null},
  "stroke":{"datum":"DEQ: Bull Trout (12°C)","type":"nominal","scale":{"domain":["DEQ: Bull Trout (12°C)","DEQ: Salmonids (16°C)","ILT: Bull Trout (20.9°C)"],"range":["#8A8A8A","#474747","#D9302A"]},
   "legend":{"title":"Temperature Standards","orient":"none","legendX":935,"legendY":480,"symbolType":"stroke","symbolSize":484,"symbolStrokeWidth":4.5,"labelFontSize":21,"rowPadding":4,"labelOffset":15,"titlePadding":14}},
  "strokeDash":{"datum":"DEQ: Bull Trout (12°C)","type":"nominal","scale":{"domain":["DEQ: Bull Trout (12°C)","DEQ: Salmonids (16°C)","ILT: Bull Trout (20.9°C)"],"range":[[1,0],[9,8],[18,9]]},
   "legend":{"title":"Temperature Standards","orient":"none","legendX":935,"legendY":480,"symbolType":"stroke","symbolSize":484,"symbolStrokeWidth":4.5,"labelFontSize":21,"rowPadding":4,"labelOffset":15,"titlePadding":14}}}},
{"transform":[{"aggregate":[{"op":"count","as":"n"}],"groupby":["s"]}],
 "mark":{"type":"rule","strokeWidth":4.5},
 "encoding":{"y":{"datum":16,"type":"quantitative","title":null},
  "stroke":{"datum":"DEQ: Salmonids (16°C)","type":"nominal"},
  "strokeDash":{"datum":"DEQ: Salmonids (16°C)","type":"nominal"}}},
{"transform":[{"aggregate":[{"op":"count","as":"n"}],"groupby":["s"]}],
 "mark":{"type":"rule","strokeWidth":5},
 "encoding":{"y":{"datum":20,"type":"quantitative","title":null},
  "stroke":{"datum":"ILT: Bull Trout (20.9°C)","type":"nominal"},
  "strokeDash":{"datum":"ILT: Bull Trout (20.9°C)","type":"nominal"}}},
{"transform":[{"aggregate":[{"op":"count","as":"n"}],"groupby":["s"]}],
 "mark":{"type":"rect","fill":"#D9D9D9","stroke":"#333333","strokeWidth":1},
 "encoding":{"x":{"datum":{"year":2021,"month":5,"date":25,"hours":22,"minutes":48,"utc":true},"type":"temporal","title":null},"x2":{"datum":{"year":2021,"month":10,"date":6,"hours":1,"minutes":12,"utc":true}},
  "y":{"datum":25.72,"type":"quantitative","title":null},"y2":{"datum":28.13}}},
{"transform":[{"aggregate":[{"op":"count","as":"n"}],"groupby":["s"]}],
 "mark":{"type":"text","fontSize":15,"color":"#333333"},
 "encoding":{"x":{"datum":{"year":2021,"month":7,"date":31,"hours":13,"utc":true},"type":"temporal","title":null},"y":{"datum":26.93,"type":"quantitative","title":null},"text":{"field":"s","type":"nominal"}}}
]}
}
